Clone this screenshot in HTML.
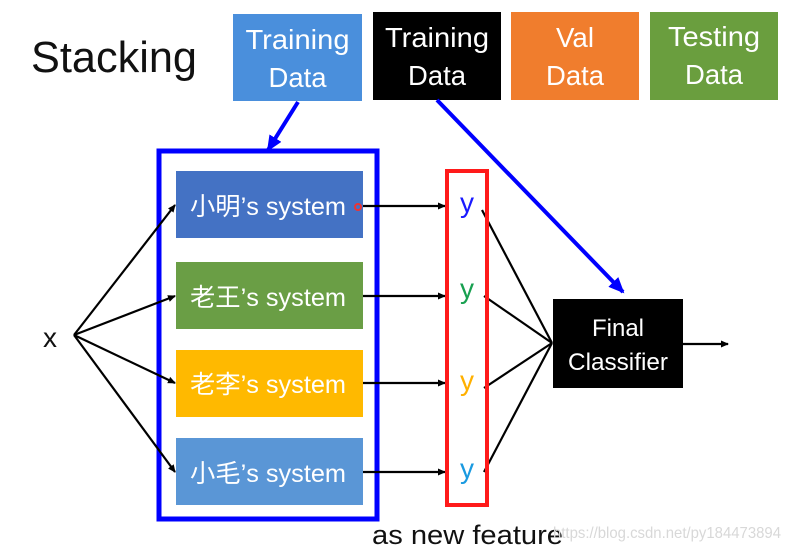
<!DOCTYPE html>
<html><head><meta charset="utf-8"><style>
html,body{margin:0;padding:0;background:#fff;}
svg{display:block;}
text{font-family:"Liberation Sans","Noto Sans CJK SC",sans-serif;}
</style></head><body>
<svg width="790" height="551" viewBox="0 0 790 551" xmlns="http://www.w3.org/2000/svg">
<defs>
<marker id="ak" markerWidth="8" markerHeight="8" refX="7" refY="4" orient="auto" markerUnits="userSpaceOnUse"><path d="M0,0.5 L8,4 L0,7.5 Z" fill="#000"/></marker>
<marker id="ab" markerWidth="16" markerHeight="14" refX="14" refY="7" orient="auto" markerUnits="userSpaceOnUse"><path d="M0,0 L16,7 L0,14 Z" fill="#0000ff"/></marker>
</defs>
<text x="31" y="72" font-size="44" textLength="166" lengthAdjust="spacingAndGlyphs" fill="#111">Stacking</text>

<rect x="233" y="14" width="129" height="87" fill="#4a8fdc"/>
<text x="297.5" y="49" font-size="28" fill="#fff" text-anchor="middle" textLength="104" lengthAdjust="spacingAndGlyphs">Training</text>
<text x="297.5" y="87" font-size="28" fill="#fff" text-anchor="middle" textLength="58" lengthAdjust="spacingAndGlyphs">Data</text>
<rect x="373" y="12" width="128" height="88" fill="#000"/>
<text x="437" y="47" font-size="28" fill="#fff" text-anchor="middle" textLength="104" lengthAdjust="spacingAndGlyphs">Training</text>
<text x="437" y="85" font-size="28" fill="#fff" text-anchor="middle" textLength="58" lengthAdjust="spacingAndGlyphs">Data</text>
<rect x="511" y="12" width="128" height="88" fill="#f07d2d"/>
<text x="575" y="47" font-size="28" fill="#fff" text-anchor="middle" textLength="38" lengthAdjust="spacingAndGlyphs">Val</text>
<text x="575" y="85" font-size="28" fill="#fff" text-anchor="middle" textLength="58" lengthAdjust="spacingAndGlyphs">Data</text>
<rect x="650" y="12" width="128" height="88" fill="#6a9e3e"/>
<text x="714" y="46" font-size="28" fill="#fff" text-anchor="middle" textLength="92" lengthAdjust="spacingAndGlyphs">Testing</text>
<text x="714" y="84" font-size="28" fill="#fff" text-anchor="middle" textLength="58" lengthAdjust="spacingAndGlyphs">Data</text>

<line x1="298" y1="102" x2="268" y2="150" stroke="#0000ff" stroke-width="4" marker-end="url(#ab)"/>
<line x1="437" y1="100" x2="623" y2="292" stroke="#0000ff" stroke-width="4" marker-end="url(#ab)"/>

<rect x="159" y="151" width="218" height="368" fill="none" stroke="#0000ff" stroke-width="5"/>

<rect x="176" y="171" width="187" height="67" fill="#4472c4"/>
<text x="190" y="215" font-size="25" fill="#fff" textLength="156" lengthAdjust="spacingAndGlyphs">小明’s system</text>
<circle cx="358" cy="207" r="3" fill="none" stroke="#e33" stroke-width="2"/>
<rect x="176" y="262" width="187" height="67" fill="#6a9e45"/>
<text x="190" y="306" font-size="25" fill="#fff" textLength="156" lengthAdjust="spacingAndGlyphs">老王’s system</text>
<rect x="176" y="350" width="187" height="67" fill="#ffb900"/>
<text x="190" y="393" font-size="25" fill="#fff" textLength="156" lengthAdjust="spacingAndGlyphs">老李’s system</text>
<rect x="176" y="438" width="187" height="67" fill="#5a96d6"/>
<text x="190" y="482" font-size="25" fill="#fff" textLength="156" lengthAdjust="spacingAndGlyphs">小毛’s system</text>

<text x="43" y="347" font-size="28" fill="#111">x</text>
<g stroke="#000" stroke-width="2.2" fill="none">
<line x1="74" y1="335" x2="175" y2="205" marker-end="url(#ak)"/>
<line x1="74" y1="335" x2="175" y2="296" marker-end="url(#ak)"/>
<line x1="74" y1="335" x2="175" y2="383" marker-end="url(#ak)"/>
<line x1="74" y1="335" x2="175" y2="472" marker-end="url(#ak)"/>
<line x1="363" y1="206" x2="445" y2="206" marker-end="url(#ak)"/>
<line x1="363" y1="296" x2="445" y2="296" marker-end="url(#ak)"/>
<line x1="363" y1="383" x2="445" y2="383" marker-end="url(#ak)"/>
<line x1="363" y1="472" x2="445" y2="472" marker-end="url(#ak)"/>
<line x1="482" y1="210" x2="552" y2="343"/>
<line x1="484" y1="296" x2="552" y2="343"/>
<line x1="484" y1="388" x2="552" y2="343"/>
<line x1="484" y1="472" x2="552" y2="343"/>
<line x1="683" y1="344" x2="728" y2="344" marker-end="url(#ak)"/>
</g>

<rect x="447" y="171" width="40" height="334" fill="none" stroke="#ff1a1a" stroke-width="4"/>
<text x="467" y="212" font-size="28" fill="#1a1aff" text-anchor="middle">y</text>
<text x="467" y="298" font-size="28" fill="#18a050" text-anchor="middle">y</text>
<text x="467" y="390" font-size="28" fill="#ffb000" text-anchor="middle">y</text>
<text x="467" y="478" font-size="28" fill="#1a9ae0" text-anchor="middle">y</text>

<rect x="553" y="299" width="130" height="89" fill="#000"/>
<text x="618" y="336" font-size="24" fill="#fff" text-anchor="middle" textLength="52" lengthAdjust="spacingAndGlyphs">Final</text>
<text x="618" y="370" font-size="24" fill="#fff" text-anchor="middle" textLength="100" lengthAdjust="spacingAndGlyphs">Classifier</text>

<text x="372" y="544" font-size="27" fill="#111" textLength="191" lengthAdjust="spacingAndGlyphs">as new feature</text>
<text x="553" y="538" font-size="16" fill="#d8d8d8" textLength="228" lengthAdjust="spacingAndGlyphs">https://blog.csdn.net/py184473894</text>
</svg>
</body></html>
